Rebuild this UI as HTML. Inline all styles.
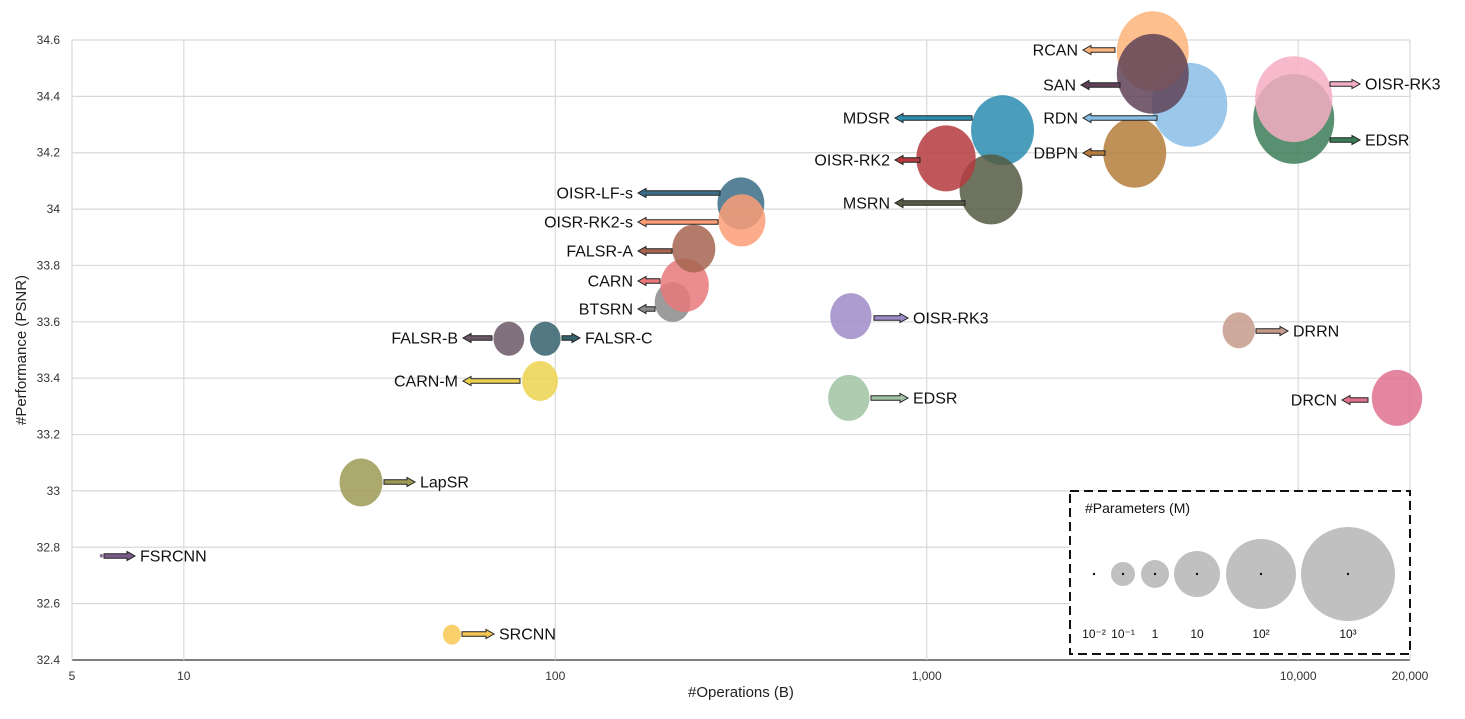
<!DOCTYPE html>
<html><head><meta charset="utf-8"><style>
html,body{margin:0;padding:0;background:#fff;}
svg{display:block;font-family:"Liberation Sans",sans-serif;}
</style></head><body>
<svg id="chart" width="1465" height="719" viewBox="0 0 1465 719" xmlns="http://www.w3.org/2000/svg"></svg>
<script>
// ---- data ----
const models = ["RDN","RCAN","SAN","EDSR","OISR-RK3","MDSR","MSRN","OISR-RK2","DBPN","OISR-LF-s","OISR-RK2-s","BTSRN","CARN","FALSR-A","FALSR-B","FALSR-C","CARN-M","OISR-RK3","EDSR","DRRN","DRCN","LapSR","FSRCNN","SRCNN"];
const operations = [5100,4060,4060,9730,9730,1600,1490,1127,3630,316,318,207,223,236,75,94,91,625,617,6920,18450,30,6,52.7];
const psnr = [34.37,34.56,34.48,34.32,34.39,34.28,34.07,34.18,34.20,34.02,33.96,33.67,33.73,33.86,33.54,33.54,33.39,33.62,33.33,33.57,33.33,33.03,32.77,32.49];
const paramsM = [380,260,260,680,460,100,100,68,100,18,18,4.6,21,12,2.2,2.2,4.6,10,10,2.8,26,12,0.012,0.066];
const colors = ["#88bde6","#fdb47a","#5f4257","#3b7c58","#f4aec3","#2c8daf","#545a43","#b53b3e","#b57c3c","#3a6c85","#fc9d75","#8a8a8a","#e8787a","#a66550","#6a5866","#34616b","#ecd24f","#9d8bc8","#9fc3a2","#c59b8b","#e0718f","#9d9a55","#7b5a8a","#f8c852"];
const xTicks = [5,10,100,1000,10000,20000];
const xTickLabels = ["5","10","100","1,000","10,000","20,000"];
const yTicks = [32.4,32.6,32.8,33,33.2,33.4,33.6,33.8,34,34.2,34.4,34.6];
const yTickLabels = ["32.4","32.6","32.8","33","33.2","33.4","33.6","33.8","34","34.2","34.4","34.6"];
const legendParams = [0.01,0.1,1,10,100,1000];
const legendLabels = ["10⁻²","10⁻¹","1","10","10²","10³"];
// ---- annotation layout (label text, tail x, tip x, y px, color) ----
const annotations = [
 ["RCAN",1115,1083,50,"#fdb47a"],["SAN",1120,1081,85,"#5f4257"],["RDN",1157,1083,118,"#88bde6"],
 ["MDSR",972,895,118,"#2c8daf"],["OISR-RK2",920,895,160,"#b53b3e"],["DBPN",1105,1083,153,"#b57c3c"],
 ["MSRN",965,895,203,"#545a43"],["OISR-RK3",1330,1360,84,"#f4aec3"],["EDSR",1330,1360,140,"#3b7c58"],
 ["OISR-LF-s",720,638,193,"#3a6c85"],["OISR-RK2-s",718,638,222,"#fc9d75"],["FALSR-A",672,638,251,"#a66550"],
 ["CARN",660,638,281,"#e8787a"],["BTSRN",655,638,309,"#8a8a8a"],["FALSR-B",492,463,338,"#6a5866"],
 ["FALSR-C",562,580,338,"#34616b"],["CARN-M",520,463,381,"#ecd24f"],["OISR-RK3",874,908,318,"#9d8bc8"],
 ["EDSR",871,908,398,"#9fc3a2"],["DRRN",1256,1288,331,"#c59b8b"],["DRCN",1368,1342,400,"#e0718f"],
 ["LapSR",384,415,482,"#9d9a55"],["FSRCNN",104,135,556,"#7b5a8a"],["SRCNN",462,494,634,"#f8c852"]
];
// ---- scales ----
const L=72,R=1410,T=40,B=660;
const lx0=Math.log10(5),lx1=Math.log10(20000);
function xs(v){return L+(Math.log10(v)-lx0)/(lx1-lx0)*(R-L);}
function ys(v){return T+(34.6-v)/(34.6-32.4)*(B-T);}
const rk=[[-2,1],[-1,12],[0,14],[1,23],[2,35],[3,47]];
function rs(p){const l=Math.log10(p);for(let i=0;i<rk.length-1;i++){if(l<=rk[i+1][0]||i==rk.length-2){const a=rk[i],b=rk[i+1];return a[1]+(l-a[0])/(b[0]-a[0])*(b[1]-a[1]);}}}
const NS="http://www.w3.org/2000/svg";
const svg=document.getElementById('chart');
function mk(tag,attrs,parent){const e=document.createElementNS(NS,tag);for(const k in attrs)e.setAttribute(k,attrs[k]);(parent||svg).appendChild(e);return e;}
// grid
yTicks.forEach((t,i)=>{
 const g=mk('line',{x1:L,x2:R,y1:ys(t),y2:ys(t),stroke:i==0?'#555':'#d9d9d9','stroke-width':i==0?1.5:1.2});
 
 
 const tx=mk('text',{x:60,y:ys(t)+4,'text-anchor':'end','font-size':12,fill:'#333'});tx.textContent=yTickLabels[i];
 
 
});
xTicks.forEach((t,i)=>{
 const g=mk('line',{x1:xs(t),x2:xs(t),y1:T,y2:B,stroke:'#d9d9d9','stroke-width':1.2});
 
 
 const tx=mk('text',{x:xs(t),y:680,'text-anchor':'middle','font-size':12,fill:'#333'});tx.textContent=xTickLabels[i];
 
 
});
const xt=mk('text',{x:741,y:697,'text-anchor':'middle','font-size':15,fill:'#222'});xt.textContent='#Operations (B)';


const yt=mk('text',{x:26,y:350,'text-anchor':'middle','font-size':15,fill:'#222',transform:'rotate(-90 26 350)'});yt.textContent='#Performance (PSNR)';


// bubbles
models.forEach((m,i)=>{
 const r=rs(paramsM[i]);
 const e=mk('ellipse',{cx:xs(operations[i]),cy:ys(psnr[i]),rx:r*0.9,ry:r,fill:colors[i],'fill-opacity':0.85});
 
 
});
// annotation arrows
annotations.forEach(a=>{
 const [lab,x1,x2,y,c]=a;const d=x2>x1?1:-1;const h=2.2;const hl=8;const hw=4.5;
 const xb=x2-d*hl;
 const pts=[[x1,y-h],[xb,y-h],[xb,y-hw],[x2,y],[xb,y+hw],[xb,y+h],[x1,y+h]].map(p=>p.join(',')).join(' ');
 const ar=mk('polygon',{points:pts,fill:c,stroke:'#222','stroke-width':1});
 
 
 const t=mk('text',{x:x2+d*5,y:y+5.5,'text-anchor':d>0?'start':'end','font-size':16,fill:'#111'});t.textContent=lab;
 
 
});
// legend
const lg=mk('g',{});


mk('rect',{x:1070,y:491,width:340,height:163,fill:'#fff',stroke:'#111','stroke-width':2,'stroke-dasharray':'9,5'},lg);
const lt=mk('text',{x:1085,y:513,'font-size':14,fill:'#111'},lg);lt.textContent='#Parameters (M)';
const lcx=[1094,1123,1155,1197,1261,1348];
legendParams.forEach((p,i)=>{
 const c=mk('circle',{cx:lcx[i],cy:574,r:rs(p),fill:'#c0c0c0'},lg);
 
 
 mk('circle',{cx:lcx[i],cy:574,r:1.2,fill:'#111'},lg);
 const t=mk('text',{x:lcx[i],y:638,'text-anchor':'middle','font-size':12,fill:'#111'},lg);t.textContent=legendLabels[i];
 
 
});
</script>
</body></html>
